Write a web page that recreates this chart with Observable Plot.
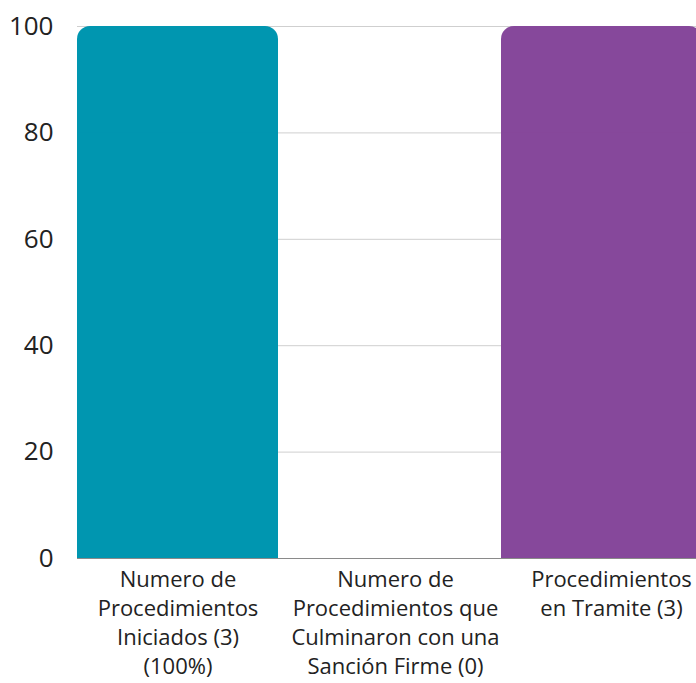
<!DOCTYPE html>
<html>
<head>
<meta charset="utf-8">
<script src="https://cdn.jsdelivr.net/npm/d3@7"></script>
<script src="https://cdn.jsdelivr.net/npm/@observablehq/plot@0.6"></script>
<style>
  html, body { margin: 0; padding: 0; background: #fff; }
  #chart { width: 696px; height: 683px; overflow: hidden; }
  svg { font-family: "Open Sans", sans-serif; }
</style>
</head>
<body>
<div id="chart"></div>
<script>
const categories = [
  "Numero de Procedimientos Iniciados (3) (100%)",
  "Numero de Procedimientos que Culminaron con una Sanción Firme (0)",
  "Procedimientos en Tramite (3)"
];
const tickLabels = [
  "Numero de\nProcedimientos\nIniciados (3)\n(100%)",
  "Numero de\nProcedimientos que\nCulminaron con una\nSanción Firme (0)",
  "Procedimientos\nen Tramite (3)"
];
const values = [100, 0, 100];
const colors = ["#0096b0", "#ffffff", "#86489b"];
const yTicks = [0, 20, 40, 60, 80, 100];

const data = categories.map((c, i) => ({cat: c, value: values[i], color: colors[i]}));
const labelOf = new Map(categories.map((c, i) => [c, tickLabels[i]]));

// small horizontal nudges of the category labels, as in the source layout
const labelNudge = [0, 5.5, 9.5];

const chart = Plot.plot({
  width: 696,
  height: 683,
  marginTop: 26,
  marginLeft: 77,
  marginRight: 0,
  marginBottom: 125,
  style: {color: "#222", fontFamily: "Open Sans, sans-serif", background: "#fff"},
  x: {domain: categories, range: [71.5, 707.5], paddingInner: 0.052, paddingOuter: 0.026, label: null},
  y: {domain: [0, 100], label: null},
  marks: [
    Plot.axisY({ticks: yTicks, tickSize: 0, tickPadding: 24, fontSize: 26, label: null,
      grid: false}),
    Plot.gridY({ticks: yTicks, stroke: "#cfcfcf", strokeOpacity: 1}),
    Plot.barY(data, {x: "cat", y: "value", fill: "color", rx: 13}),
    Plot.barY(data, {x: "cat", y1: 0, y2: d => d.value * 0.8, fill: "color"}),
    Plot.ruleY([0], {stroke: "#8a8a8a", strokeWidth: 1}),
    ...categories.map((c, i) => Plot.axisX({ticks: [c], tickSize: 0, tickPadding: 8.5, fontSize: 22,
      lineHeight: 1.31, dx: labelNudge[i], tickFormat: d => labelOf.get(d), label: null}))
  ]
});
document.getElementById("chart").appendChild(chart);
</script>
</body>
</html>
